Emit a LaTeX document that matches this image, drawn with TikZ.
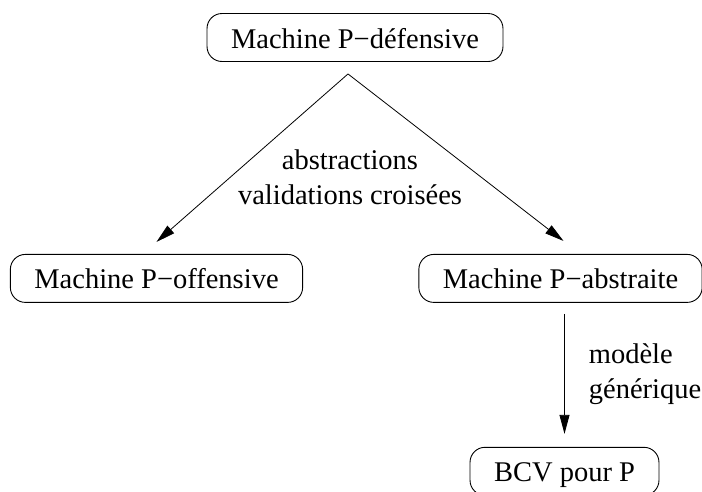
\documentclass[tikz,border=0pt]{standalone}
\usepackage{fontspec}
\setmainfont{Liberation Serif}
\usetikzlibrary{arrows.meta,positioning}
\tikzset{
  machbox/.style={
    rectangle, rounded corners=15pt, draw=black, line width=0.9pt,
    inner xsep=24pt, minimum height=48pt,
    text height=21pt, text depth=0pt,
    font=\fontsize{28.5pt}{35pt}\selectfont
  },
  flowarrow/.style={-{Triangle[length=19pt,width=10pt]}, line width=0.8pt},
  edgelabel/.style={inner sep=0pt, font=\fontsize{28.5pt}{35pt}\selectfont},
}
\begin{document}
\begin{tikzpicture}[x=1pt, y=1pt]
  \useasboundingbox (0,0) rectangle (702,-491);
  \node[machbox] (def) at (355,-37.5) {Machine P−défensive};
  \node[machbox, below=192pt of def, xshift=-198.5pt] (off) {Machine P−offensive};
  \node[machbox, below=192pt of def, xshift=205.5pt] (abs) {Machine P−abstraite};
  \node[machbox, below=144pt of abs, xshift=4pt] (bcv) {BCV pour P};
  \coordinate (fork) at ([xshift=-7pt, yshift=-12pt]def.south);

  \node[edgelabel, align=center, below=88pt of def, xshift=-5pt] (crossval) {abstractions\\validations croisées};

  \draw[flowarrow] (fork) -- ([yshift=12pt]off.north);
  \draw[flowarrow] (fork) -- ([xshift=3pt, yshift=13pt]abs.north);
  \draw[flowarrow] ([xshift=4pt, yshift=-11pt]abs.south) -- ([yshift=13pt]bcv.north)
    node[edgelabel, midway, right=24pt, align=left] (genmodel) {modèle\\générique};
\end{tikzpicture}
\end{document}
